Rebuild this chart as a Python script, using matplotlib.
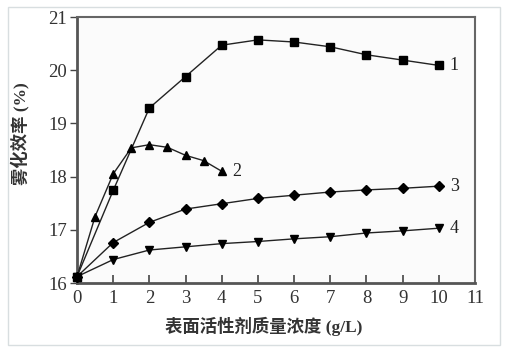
import numpy as np
import matplotlib
matplotlib.use("Agg")
import matplotlib.pyplot as plt
from matplotlib.patches import Rectangle

# data
x1 = [0, 1, 2, 3, 4, 5, 6, 7, 8, 9, 10]
y1 = [16.12, 17.74, 19.29, 19.88, 20.47, 20.57, 20.53, 20.44, 20.29, 20.19, 20.09]
x2 = [0, 0.5, 1, 1.5, 2, 2.5, 3, 3.5, 4]
y2 = [16.12, 17.25, 18.05, 18.54, 18.60, 18.55, 18.40, 18.30, 18.10]
x3 = [0, 1, 2, 3, 4, 5, 6, 7, 8, 9, 10]
y3 = [16.12, 16.76, 17.14, 17.39, 17.49, 17.59, 17.65, 17.71, 17.75, 17.78, 17.82]
x4 = [0, 1, 2, 3, 4, 5, 6, 7, 8, 9, 10]
y4 = [16.12, 16.44, 16.62, 16.68, 16.74, 16.78, 16.83, 16.87, 16.94, 16.98, 17.03]
labels = ['1', '2', '3', '4']
xticks = list(range(0, 12))
yticks = [16, 17, 18, 19, 20, 21]

serif = ['Liberation Serif', 'DejaVu Serif']
cjk = ['Liberation Serif', 'Noto Sans CJK SC']  # latin in serif, chinese falls back

fig = plt.figure(figsize=(5.06, 3.52), dpi=100)
fig.patch.set_facecolor('white')
# light frame round the picture
fig.patches.append(Rectangle((8 / 506, 7 / 352), 492 / 506, 338 / 352, transform=fig.transFigure,
                             fill=False, edgecolor='#d8dee0', linewidth=1.0))

ax = fig.add_axes([77 / 506, 1 - 283 / 352, 398 / 506, 266 / 352])
ax.set_facecolor('#fbfbfb')

series = [(x1, y1, 's', 6), (x2, y2, '^', 6), (x3, y3, 'D', 5), (x4, y4, 'v', 6)]
for (xs, ys, m, ms), lab in zip(series, labels):
    ax.plot(xs, ys, color='#222222', linewidth=1.0, marker=m, markersize=ms,
            markerfacecolor='black', markeredgecolor='black', clip_on=False, zorder=3)
    ax.text(xs[-1] + 0.3, ys[-1], lab, fontsize=13, family=serif, ha='left', va='center',
            color='#222222')

ax.set_xlim(0, 11)
ax.set_ylim(16, 21)
ax.set_xticks(xticks)
ax.set_yticks(yticks)
ax.set_xticklabels([str(t) for t in xticks], family=serif, fontsize=13.5, color='#333333')
ax.set_yticklabels([str(t) for t in yticks], family=serif, fontsize=13.5, color='#333333')
ax.tick_params(axis='x', direction='in', length=6, width=1.2, color='#444444', pad=5)
ax.tick_params(axis='y', direction='out', length=5, width=1.0, color='#444444', pad=2)

for side in ['left', 'bottom']:
    ax.spines[side].set_linewidth(2.0)
    ax.spines[side].set_color('#555555')
for side in ['top', 'right']:
    ax.spines[side].set_linewidth(1.5)
    ax.spines[side].set_color('#666666')

ax.set_xlabel('表面活性剂质量浓度 (g/L)', family=cjk, fontsize=12.5, fontweight='bold',
              color='#333333', va='center')
ax.set_ylabel('雾化效率 (%)', family=cjk, fontsize=12.5, fontweight='bold',
              color='#333333', va='center')
ax.xaxis.set_label_coords(0.47, -0.165)
ax.yaxis.set_label_coords(-0.143, 0.56)

fig.savefig('out.png', dpi=100, facecolor='white')
